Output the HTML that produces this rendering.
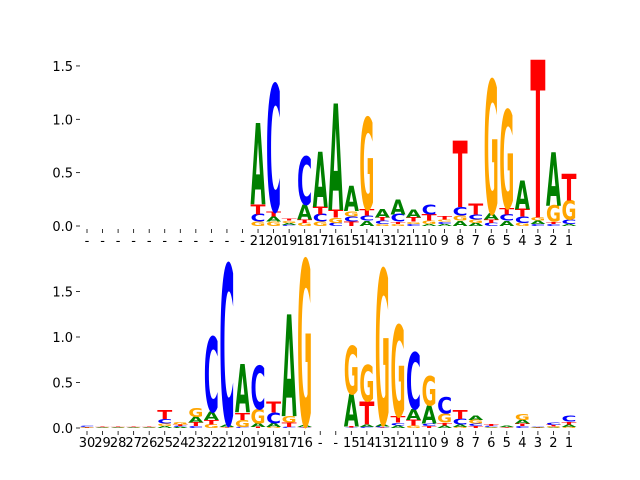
<!DOCTYPE html>
<html><head><meta charset="utf-8"><style>
body{margin:0;background:#fff}
svg{display:block}
text.lbl{font-family:"DejaVu Sans","Liberation Sans",sans-serif;font-size:13px;fill:#000}
</style></head><body>
<svg id="chart" width="640" height="480" viewBox="0 0 640 480" xmlns="http://www.w3.org/2000/svg"></svg>
<script>
const topLabels = ["-","-","-","-","-","-","-","-","-","-","-","21","20","19","18","17","16","15","14","13","12","11","10","9","8","7","6","5","4","3","2","1"];
const topA = [0,0,0,0,0,0,0,0,0,0,0,.76,.05,.02,.14,.52,1.0,.24,.05,.08,.14,.07,.02,.02,.05,.03,.06,.05,.27,.03,.5,.02];
const topC = [0,0,0,0,0,0,0,0,0,0,0,.07,1.19,.01,.45,.07,.03,.05,.05,.03,.07,.02,.09,.02,.08,.05,.03,.06,.06,.02,.02,.04];
const topG = [0,0,0,0,0,0,0,0,0,0,0,.04,.04,.02,.03,.04,.05,.05,.86,.02,.02,.02,.03,.02,.05,.03,1.25,.92,.03,.03,.15,.18];
const topT = [0,0,0,0,0,0,0,0,0,0,0,.09,.05,.02,.03,.07,.07,.04,.06,.03,.02,.04,.06,.03,.62,.1,.03,.06,.07,1.48,.02,.25];

const botLabels = ["30","29","28","27","26","25","24","23","22","21","20","19","18","17","16","-","-","15","14","13","12","11","10","9","8","7","6","5","4","3","2","1"];
const botA = [.005,.003,.003,.003,.003,.02,.01,.06,.09,.03,.53,.04,.04,1.12,.02,0,0,.36,.03,.03,.03,.12,.2,.03,.03,.05,.005,.01,.04,.003,.005,.03];
const botC = [.01,.003,.003,.003,.003,.05,.01,.02,.82,1.76,.01,.48,.12,.01,.005,0,0,.005,.01,.01,.03,.62,.03,.18,.06,.03,.01,.005,.02,.005,.03,.06];
const botG = [.005,.003,.003,.003,.003,.03,.03,.1,.04,.005,.08,.16,.01,.07,1.82,0,0,.53,.4,1.7,1.0,.03,.32,.1,.01,.04,.005,.005,.06,.003,.01,.01];
const botT = [.003,.003,.003,.003,.003,.1,.02,.04,.05,.005,.08,.01,.12,.05,.005,0,0,.01,.25,.005,.07,.06,.02,.03,.1,.02,.02,.003,.03,.003,.02,.03];

const yTicks = [0, 0.5, 1.0, 1.5];
const colors = {A:"#008000", C:"#0000ff", G:"#ffa500", T:"#ff0000"};
const NS = "http://www.w3.org/2000/svg";
const svg = document.getElementById("chart");
const x0 = 87, dx = 482/31, colW = 15;
function xScale(i){ return x0 + i*dx; }

function panel(name, base, ppu, labels, A, C, G, T){
  const g = document.createElementNS(NS, "g");
  
  
  svg.appendChild(g);
  const yScale = v => base - v*ppu;
  yTicks.forEach(t => {
    const y = yScale(t);
    const ln = document.createElementNS(NS, "line");
    ln.setAttribute("x1", 76); ln.setAttribute("x2", 80);
    ln.setAttribute("y1", y); ln.setAttribute("y2", y);
    ln.setAttribute("stroke", "#000"); ln.setAttribute("stroke-width", "0.8");
    
    
    g.appendChild(ln);
    const tx = document.createElementNS(NS, "text");
    tx.setAttribute("class", "lbl");
    tx.setAttribute("x", 73); tx.setAttribute("y", y + 5);
    tx.setAttribute("text-anchor", "end");
    tx.textContent = t.toFixed(1);
    
    
    g.appendChild(tx);
  });
  labels.forEach((lab, i) => {
    const x = xScale(i);
    const ln = document.createElementNS(NS, "line");
    ln.setAttribute("x1", x); ln.setAttribute("x2", x);
    ln.setAttribute("y1", base + 3); ln.setAttribute("y2", base + 7);
    ln.setAttribute("stroke", "#000"); ln.setAttribute("stroke-width", "0.8");
    
    
    g.appendChild(ln);
    const tx = document.createElementNS(NS, "text");
    tx.setAttribute("class", "lbl");
    tx.setAttribute("x", x); tx.setAttribute("y", base + 19);
    tx.setAttribute("text-anchor", "middle");
    tx.textContent = lab;
    
    
    g.appendChild(tx);
    const stack = [["A", A[i]], ["C", C[i]], ["G", G[i]], ["T", T[i]]].filter(d => d[1] > 0).sort((a, b) => a[1] - b[1]);
    let cum = 0;
    stack.forEach(([L, h]) => {
      const yb = yScale(cum);
      const hp = h * ppu;
      cum += h;
      const t = document.createElementNS(NS, "text");
      t.setAttribute("x", 0); t.setAttribute("y", 0);
      t.setAttribute("font-family", "DejaVu Sans, Liberation Sans, sans-serif");
      t.setAttribute("font-weight", "bold");
      t.setAttribute("font-size", "100");
      t.setAttribute("textLength", colW);
      t.setAttribute("lengthAdjust", "spacingAndGlyphs");
      t.setAttribute("fill", colors[L]);
      t.setAttribute("transform", "translate(" + (x - colW/2) + "," + yb + ") scale(1," + (hp/73) + ")");
      t.textContent = L;
      
      
      g.appendChild(t);
    });
  });
}
panel("top-logo-panel", 226, 106.7, topLabels, topA, topC, topG, topT);
panel("bottom-logo-panel", 428, 91, botLabels, botA, botC, botG, botT);
</script>
</body></html>
